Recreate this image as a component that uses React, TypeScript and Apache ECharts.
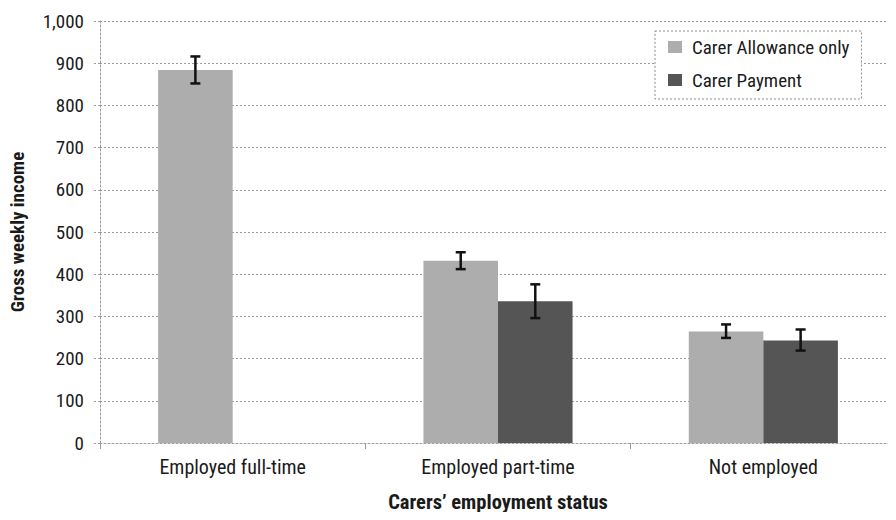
import React, { useEffect, useRef } from "react";
import * as echarts from "echarts";

const categories = ["Employed full-time", "Employed part-time", "Not employed"];
const seriesNames = ["Carer Allowance only", "Carer Payment"];
const allowanceValues: (number | null)[] = [884, 432, 264];
const paymentValues: (number | null)[] = [null, 336, 243];
const allowanceLow = [852, 412, 249];
const allowanceHigh = [916, 452, 281];
const paymentLow: (number | null)[] = [null, 296, 219];
const paymentHigh: (number | null)[] = [null, 376, 269];
const yTicks = [0, 100, 200, 300, 400, 500, 600, 700, 800, 900, 1000];

const FONT = "'Roboto Condensed', 'DejaVu Sans Condensed', sans-serif";
const LIGHT = "#adadad";
const DARK = "#555555";
const TEXT = "#1a1a1a";

function errorSeries(name: string, low: (number | null)[], high: (number | null)[], seriesIndex: number) {
  const data = categories.map((c, i) => (low[i] == null ? [i, null, null] : [i, low[i], high[i]]));
  return {
    type: "custom",
    name: name + " error",
    z: 10,
    renderItem: (params: any, api: any) => {
      const lo = api.value(1);
      const hi = api.value(2);
      if (lo == null || hi == null || isNaN(lo)) return null;
      const idx = api.value(0);
      const band = api.size([1, 0])[0];
      const barW = band * 0.281;
      const center = api.coord([idx, 0])[0];
      const x = seriesIndex === 0 ? center - barW / 2 : center + barW / 2;
      const pHi = api.coord([idx, hi]);
      const pLo = api.coord([idx, lo]);
      const cap = 5;
      const style = { stroke: "#111", lineWidth: 2.5 };
      return {
        type: "group",
        children: [
          { type: "line", shape: { x1: x, y1: pHi[1], x2: x, y2: pLo[1] }, style },
          { type: "line", shape: { x1: x - cap, y1: pHi[1], x2: x + cap, y2: pHi[1] }, style },
          { type: "line", shape: { x1: x - cap, y1: pLo[1], x2: x + cap, y2: pLo[1] }, style },
        ],
      };
    },
    data,
    encode: { x: 0, y: [1, 2] },
    silent: true,
  };
}

export default function App() {
  const ref = useRef<HTMLDivElement>(null);
  useEffect(() => {
    if (!ref.current) return;
    const chart = echarts.init(ref.current, null, { renderer: "svg" });
    const dotted = { color: "#9a9a9a", type: [2, 2] as any, width: 1 };
    chart.setOption({
      animation: false,
      backgroundColor: "#ffffff",
      textStyle: { fontFamily: FONT },
      grid: { left: 98, top: 21, width: 810, height: 422, containLabel: false },
      legend: {
        data: seriesNames,
        orient: "vertical",
        left: 655,
        top: 31,
        padding: [5, 12, 8, 13],
        itemGap: 11,
        itemWidth: 14,
        itemHeight: 12,
        icon: "rect",
        borderColor: "#8a8a8a",
        borderWidth: 1,
        borderType: [2, 2],
        backgroundColor: "#ffffff",
        textStyle: { fontFamily: FONT, fontSize: 19, lineHeight: 22, color: TEXT, padding: [0, 0, 0, 5] },
      },
      xAxis: {
        type: "category",
        data: categories,
        name: "Carers\u2019 employment status",
        nameLocation: "middle",
        nameGap: 48,
        nameTextStyle: { fontFamily: FONT, fontSize: 20.5, fontWeight: "bold", color: TEXT },
        axisLine: { lineStyle: dotted },
        axisTick: { show: true, length: 6, lineStyle: { color: "#9a9a9a" } },
        axisLabel: { fontFamily: FONT, fontSize: 20, color: TEXT, margin: 14 },
      },
      yAxis: {
        type: "value",
        min: 0,
        max: 1000,
        interval: 100,
        name: "Gross weekly income",
        nameLocation: "middle",
        nameGap: 73,
        nameTextStyle: { fontFamily: FONT, fontSize: 19, fontWeight: "bold", color: TEXT },
        axisLine: { show: true, lineStyle: dotted },
        axisTick: { show: true, length: 8, lineStyle: dotted },
        splitLine: { show: true, lineStyle: dotted },
        axisLabel: {
          fontFamily: FONT,
          fontSize: 19,
          color: TEXT,
          margin: 16,
          formatter: (v: number) => (yTicks.includes(v) ? v.toLocaleString("en-US") : ""),
        },
      },
      series: [
        {
          name: seriesNames[0],
          type: "bar",
          data: allowanceValues,
          barGap: "0%",
          barCategoryGap: "43.8%",
          itemStyle: { color: LIGHT },
        },
        {
          name: seriesNames[1],
          type: "bar",
          data: paymentValues,
          itemStyle: { color: DARK },
        },
        errorSeries(seriesNames[0], allowanceLow, allowanceHigh, 0),
        errorSeries(seriesNames[1], paymentLow, paymentHigh, 1),
      ],
    });
    return () => chart.dispose();
  }, []);
  return <div ref={ref} style={{ width: 896, height: 520, margin: -8 }} />;
}
